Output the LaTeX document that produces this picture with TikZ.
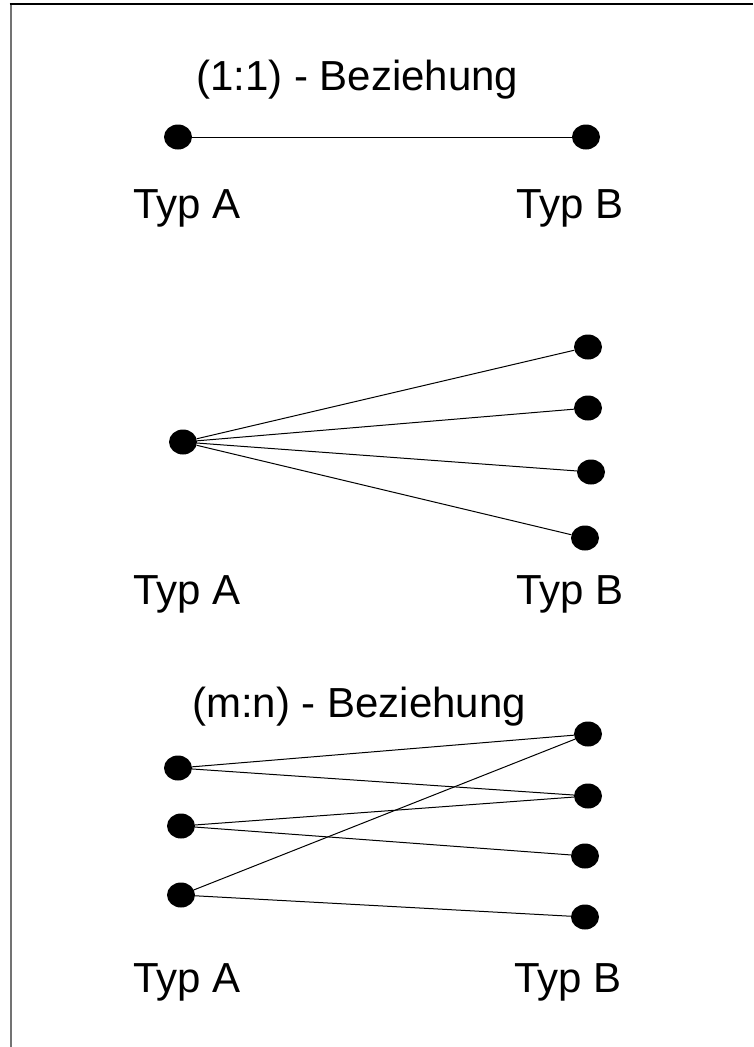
\documentclass[tikz,border=0pt]{standalone}
\usepackage{fontspec}
\setmainfont{Liberation Sans}
\usetikzlibrary{shapes}

\begin{document}
\begin{tikzpicture}[x=1pt, y=-1pt]
    \tikzstyle{every node} = [font=\fontsize{42}{50}\selectfont, inner sep=0pt]
    \tikzstyle{dot} = [ellipse, fill=black, minimum width=28, minimum height=25]
    \tikzstyle{verb} = [line width=1pt]
    \useasboundingbox (0, 0) rectangle (753, 1047);

    % frame
    \draw [line width=2pt, black!55] (10.5, 1047) -- (10.5, 4);
    \draw [line width=1.3pt] (9.5, 4) -- (753, 4);

    % (1:1)
    \node [anchor=base west] (t1) at (196, 90) {(1:1) - Beziehung};
    \node [dot] (eA) at (178, 137) {};
    \node [dot] (eB) at (586, 137) {};
    \draw [verb] (eA) -- (eB);
    \node [anchor=base west] (ea) at (133, 218) {Typ A};
    \node [anchor=base east] (eb) at (624, 218) {Typ B};

    % (1:n)
    \node [dot] (kA) at (183, 442) {};
    \foreach \n/\x/\y in {1/588/347, 2/588/408, 3/591/472, 4/585/538} {
      \node [dot] (kB\n) at (\x, \y) {};
      \draw [verb] (kA) -- (kB\n);
    }
    \node [anchor=base west] (ka) at (133, 604) {Typ A};
    \node [anchor=base east] (kb) at (624, 604) {Typ B};

    % (m:n)
    \node [anchor=base west] (t2) at (192, 717) {(m:n) - Beziehung};
    \foreach \n/\x/\y in {1/178/768, 2/181/826, 3/181/895}
      \node [dot] (mA\n) at (\x, \y) {};
    \foreach \n/\x/\y in {1/588/734, 2/588/796, 3/585/856, 4/585/917}
      \node [dot] (mB\n) at (\x, \y) {};
    \foreach \a/\b in {1/1, 1/2, 2/2, 2/3, 3/1, 3/4}
      \draw [verb] (mA\a) -- (mB\b);
    \node [anchor=base west] (ma) at (133, 992) {Typ A};
    \node [anchor=base east] (mb) at (622, 992) {Typ B};
\end{tikzpicture}
\end{document}
